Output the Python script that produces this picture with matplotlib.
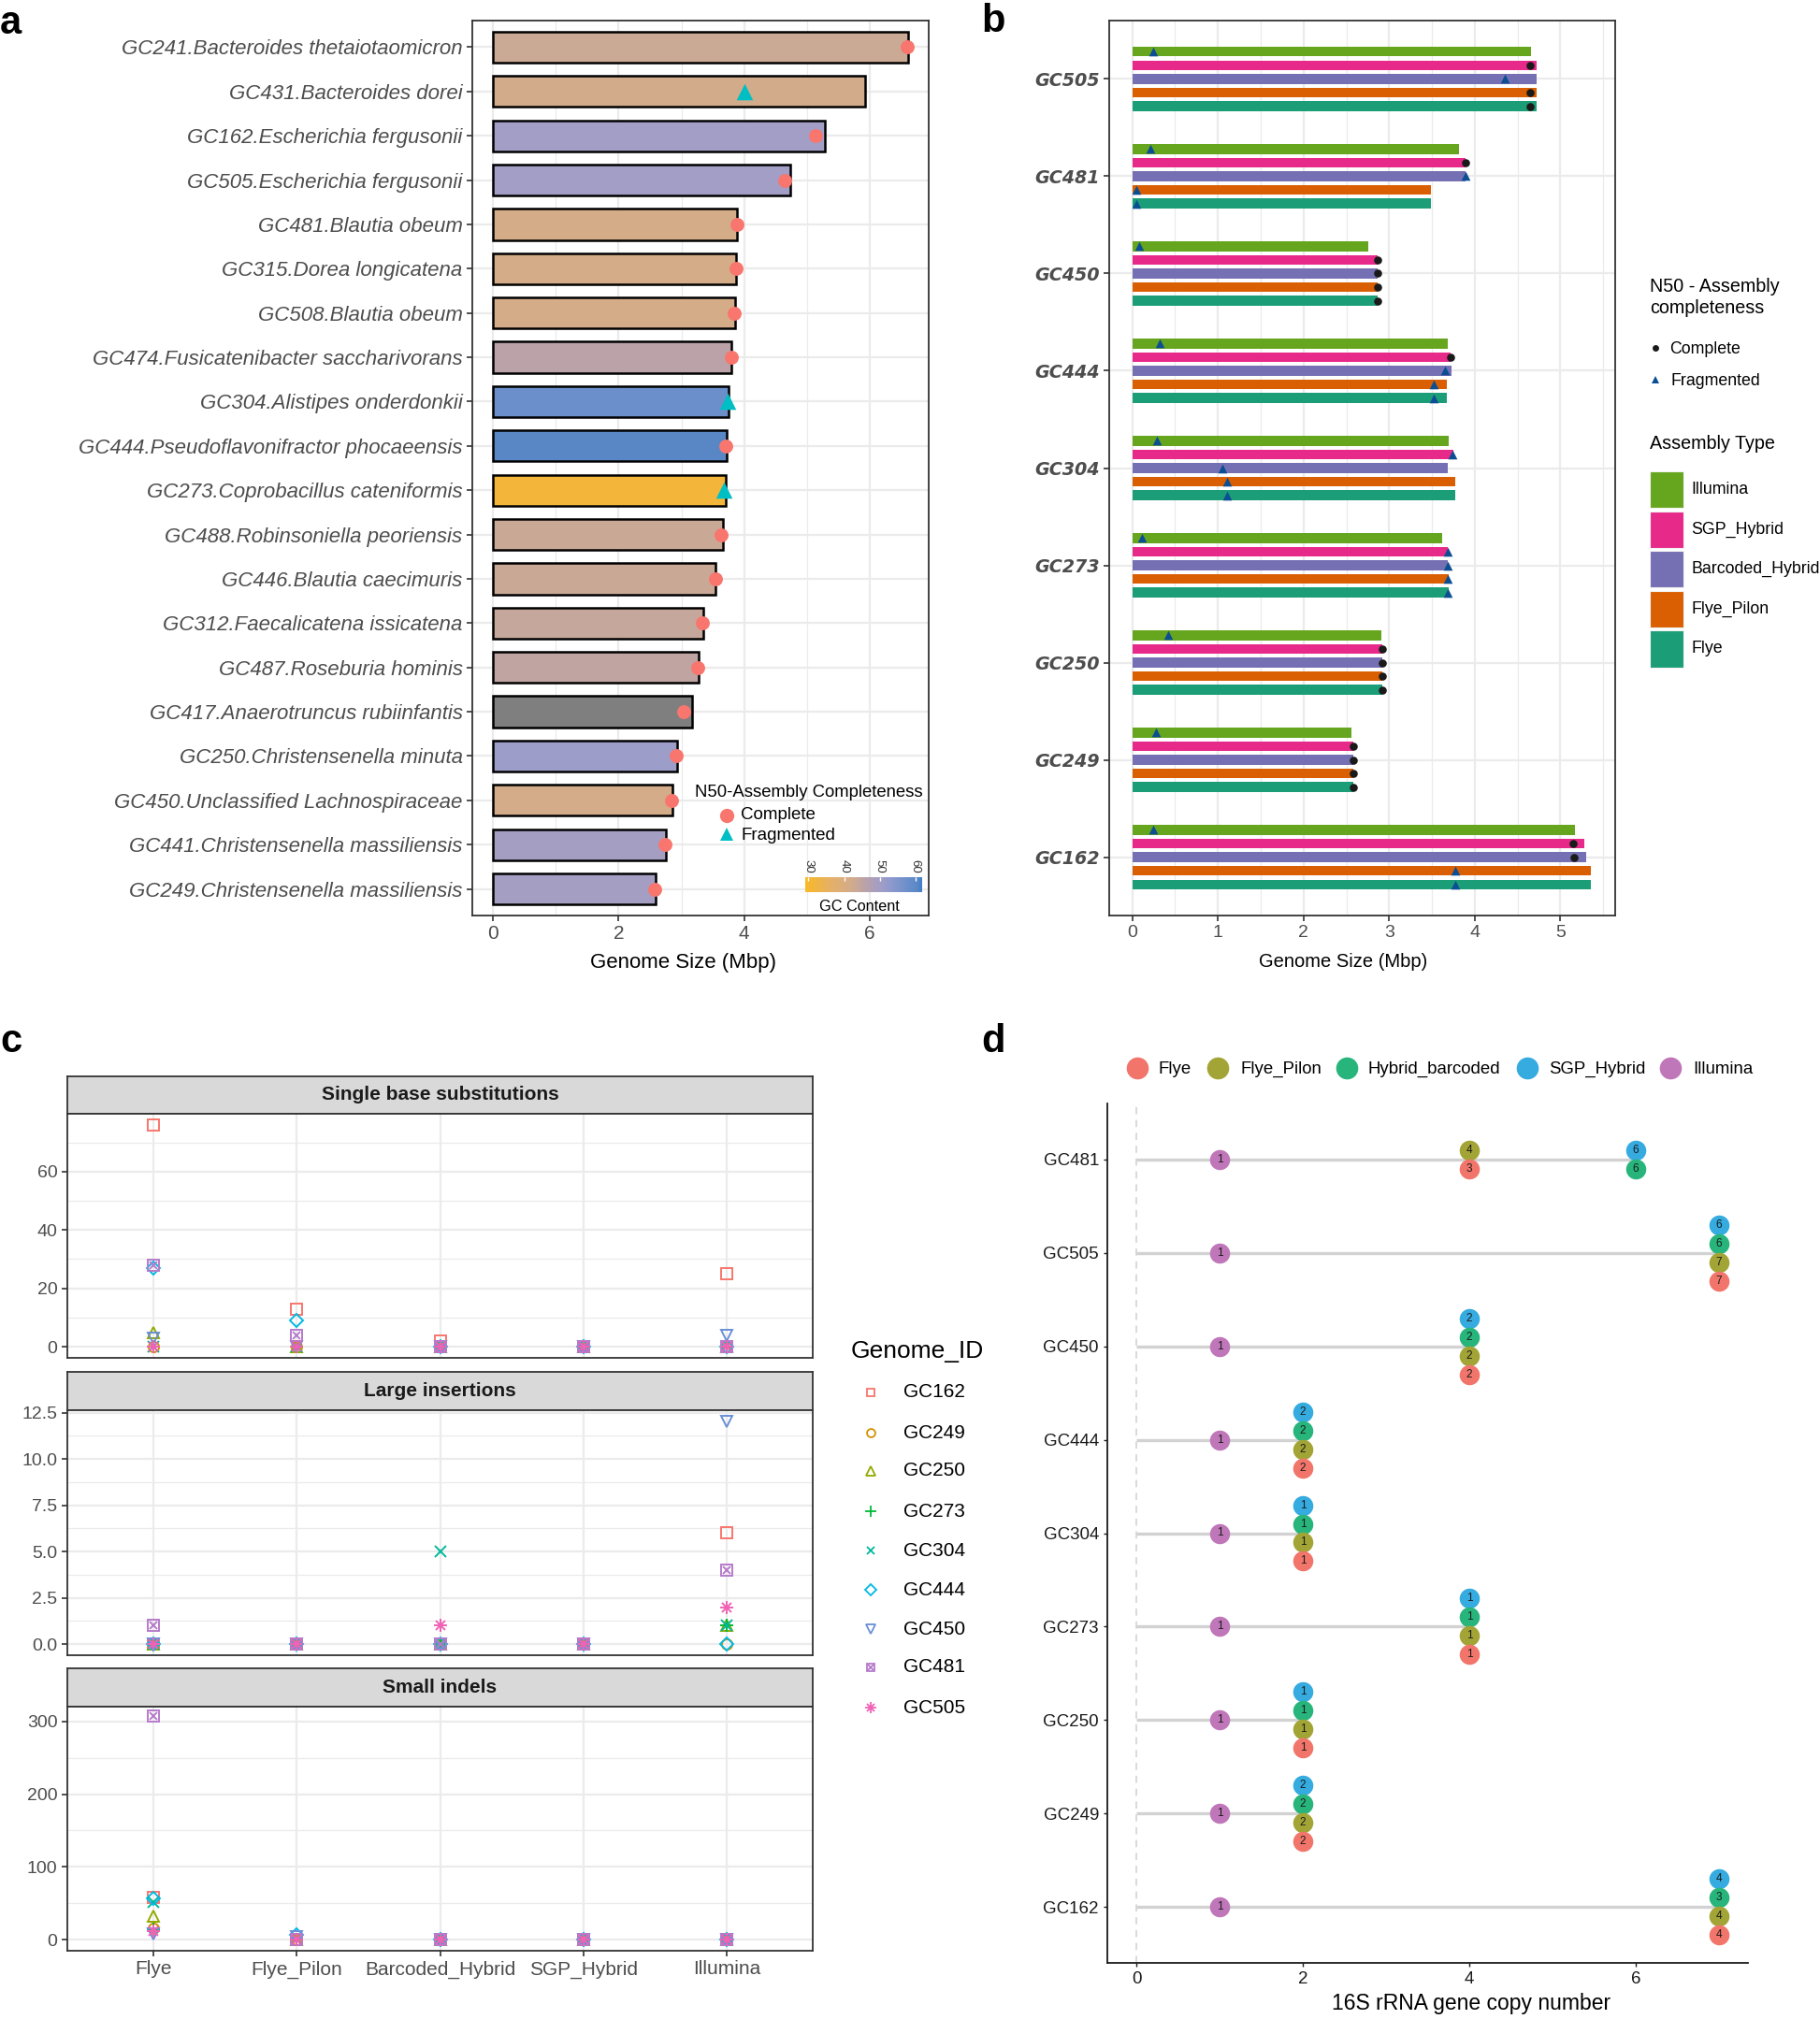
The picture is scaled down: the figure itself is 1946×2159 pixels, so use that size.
import numpy as np
import matplotlib
matplotlib.use("Agg")
import matplotlib.pyplot as plt
from matplotlib.colors import LinearSegmentedColormap, Normalize
from matplotlib.cm import ScalarMappable
from matplotlib.patches import Rectangle
from matplotlib.ticker import FixedLocator

plt.rcParams['font.family'] = ['Liberation Sans', 'DejaVu Sans']

# ======================= DATA =======================
# ---- panel a
a_labels = ["GC241.Bacteroides thetaiotaomicron", "GC431.Bacteroides dorei",
            "GC162.Escherichia fergusonii", "GC505.Escherichia fergusonii",
            "GC481.Blautia obeum", "GC315.Dorea longicatena", "GC508.Blautia obeum",
            "GC474.Fusicatenibacter saccharivorans", "GC304.Alistipes onderdonkii",
            "GC444.Pseudoflavonifractor phocaeensis", "GC273.Coprobacillus cateniformis",
            "GC488.Robinsoniella peoriensis", "GC446.Blautia caecimuris",
            "GC312.Faecalicatena issicatena", "GC487.Roseburia hominis",
            "GC417.Anaerotruncus rubiinfantis", "GC250.Christensenella minuta",
            "GC450.Unclassified Lachnospiraceae", "GC441.Christensenella massiliensis",
            "GC249.Christensenella massiliensis"]
a_size = [6.61, 5.93, 5.28, 4.73, 3.89, 3.87, 3.85, 3.80, 3.75, 3.72,
          3.70, 3.66, 3.55, 3.35, 3.27, 3.17, 2.93, 2.86, 2.75, 2.59]
a_n50 = [6.60, 4.00, 5.14, 4.65, 3.89, 3.87, 3.84, 3.80, 3.73, 3.71,
         3.68, 3.64, 3.55, 3.34, 3.26, 3.04, 2.92, 2.85, 2.74, 2.58]
a_status = ["Complete", "Fragmented", "Complete", "Complete", "Complete", "Complete",
            "Complete", "Complete", "Fragmented", "Complete", "Fragmented", "Complete",
            "Complete", "Complete", "Complete", "Complete", "Complete", "Complete",
            "Complete", "Complete"]
a_gc = [43.3, 41.8, 50.0, 50.0, 41.5, 41.5, 41.5, 45.8, 58.0, 60.5,
        31.5, 43.5, 43.5, 44.2, 45.0, np.nan, 51.0, 41.6, 49.5, 49.5]
gc_ticks = [30, 40, 50, 60]

# ---- panel b
b_genomes = ["GC505", "GC481", "GC450", "GC444", "GC304", "GC273", "GC250", "GC249", "GC162"]
b_types = ["Illumina", "SGP_Hybrid", "Barcoded_Hybrid", "Flye_Pilon", "Flye"]
b_size = {
    "Illumina":        [4.66, 3.82, 2.76, 3.69, 3.70, 3.62, 2.91, 2.56, 5.17],
    "SGP_Hybrid":      [4.72, 3.89, 2.86, 3.72, 3.75, 3.69, 2.92, 2.58, 5.28],
    "Barcoded_Hybrid": [4.72, 3.89, 2.86, 3.73, 3.68, 3.69, 2.92, 2.58, 5.30],
    "Flye_Pilon":      [4.72, 3.49, 2.86, 3.67, 3.77, 3.70, 2.92, 2.58, 5.36],
    "Flye":            [4.72, 3.49, 2.86, 3.67, 3.77, 3.70, 2.92, 2.58, 5.36],
}
b_n50 = {
    "Illumina":        [0.24, 0.21, 0.08, 0.32, 0.29, 0.11, 0.42, 0.28, 0.24],
    "SGP_Hybrid":      [4.65, 3.89, 2.86, 3.72, 3.74, 3.68, 2.92, 2.58, 5.15],
    "Barcoded_Hybrid": [4.35, 3.89, 2.86, 3.65, 1.05, 3.68, 2.92, 2.58, 5.16],
    "Flye_Pilon":      [4.65, 0.05, 2.86, 3.52, 1.11, 3.69, 2.92, 2.58, 3.77],
    "Flye":            [4.65, 0.05, 2.86, 3.52, 1.11, 3.69, 2.92, 2.58, 3.77],
}
b_status = {
    "Illumina":        ["F", "F", "F", "F", "F", "F", "F", "F", "F"],
    "SGP_Hybrid":      ["C", "C", "C", "C", "F", "F", "C", "C", "C"],
    "Barcoded_Hybrid": ["F", "F", "C", "F", "F", "F", "C", "C", "C"],
    "Flye_Pilon":      ["C", "F", "C", "F", "F", "F", "C", "C", "F"],
    "Flye":            ["C", "F", "C", "F", "F", "F", "C", "C", "F"],
}

# ---- panel c
c_types = ["Flye", "Flye_Pilon", "Barcoded_Hybrid", "SGP_Hybrid", "Illumina"]
c_ids = ["GC162", "GC249", "GC250", "GC273", "GC304", "GC444", "GC450", "GC481", "GC505"]
c_facets = ["Single base substitutions", "Large insertions", "Small indels"]
c_sbs = {"GC162": [76, 13, 2, 0, 25], "GC249": [0, 0, 0, 0, 0], "GC250": [5, 0, 0, 0, 0],
         "GC273": [0, 0, 0, 0, 0], "GC304": [0, 0, 0, 0, 0], "GC444": [27, 9, 0, 0, 0],
         "GC450": [3, 0, 0, 0, 4], "GC481": [28, 4, 0, 0, 0], "GC505": [0, 0, 0, 0, 0]}
c_ins = {"GC162": [0, 0, 0, 0, 6], "GC249": [0, 0, 0, 0, 0], "GC250": [0, 0, 0, 0, 1],
         "GC273": [0, 0, 0, 0, 1], "GC304": [0, 0, 5, 0, 1], "GC444": [0, 0, 0, 0, 0],
         "GC450": [0, 0, 0, 0, 12], "GC481": [1, 0, 0, 0, 4], "GC505": [0, 0, 1, 0, 2]}
c_indel = {"GC162": [58, 0, 0, 0, 0], "GC249": [15, 0, 0, 0, 0], "GC250": [32, 0, 0, 0, 0],
           "GC273": [14, 0, 0, 0, 0], "GC304": [52, 0, 0, 0, 0], "GC444": [57, 7, 0, 0, 0],
           "GC450": [8, 4, 0, 0, 0], "GC481": [307, 0, 0, 0, 0], "GC505": [12, 0, 0, 0, 0]}
c_yticks = [[0, 20, 40, 60], [0.0, 2.5, 5.0, 7.5, 10.0, 12.5], [0, 100, 200, 300]]
c_ytick_labels = [["0", "20", "40", "60"], ["0.0", "2.5", "5.0", "7.5", "10.0", "12.5"],
                  ["0", "100", "200", "300"]]

# ---- panel d
d_genomes = ["GC481", "GC505", "GC450", "GC444", "GC304", "GC273", "GC250", "GC249", "GC162"]
d_types = ["Flye", "Flye_Pilon", "Hybrid_barcoded", "SGP_Hybrid", "Illumina"]
d_pos = {
    "Flye":            [4, 7, 4, 2, 2, 4, 2, 2, 7],
    "Flye_Pilon":      [4, 7, 4, 2, 2, 4, 2, 2, 7],
    "Hybrid_barcoded": [6, 7, 4, 2, 2, 4, 2, 2, 7],
    "SGP_Hybrid":      [6, 7, 4, 2, 2, 4, 2, 2, 7],
    "Illumina":        [1, 1, 1, 1, 1, 1, 1, 1, 1],
}
d_copies = {
    "Flye":            [3, 7, 2, 2, 1, 1, 1, 2, 4],
    "Flye_Pilon":      [4, 7, 2, 2, 1, 1, 1, 2, 4],
    "Hybrid_barcoded": [6, 6, 2, 2, 1, 1, 1, 2, 3],
    "SGP_Hybrid":      [6, 6, 2, 2, 1, 1, 1, 2, 4],
    "Illumina":        [1, 1, 1, 1, 1, 1, 1, 1, 1],
}

# ======================= STYLE =======================
W, H = 1946, 2159
DPI = 100
fig = plt.figure(figsize=(W / DPI, H / DPI), dpi=DPI)


def rect(x0, y0, x1, y1):
    return [x0 / W, 1 - y1 / H, (x1 - x0) / W, (y1 - y0) / H]


GRID = '#EBEBEB'
TXT = '#4D4D4D'
SPINE = '#333333'


def style_bw(ax):
    for s in ax.spines.values():
        s.set_color(SPINE)
        s.set_linewidth(1.3)
    ax.tick_params(which='major', colors=SPINE, labelcolor=TXT, length=4, width=1.2)
    ax.tick_params(which='minor', length=0)
    ax.set_axisbelow(True)


# GC colour scale
gc_lo, gc_hi = 29.1, 61.9
anchors = [(29.1, '#F9B926'), (36.0, '#E6B066'), (41.5, '#D4AC88'), (44.0, '#C6A79A'),
           (46.0, '#B9A1A9'), (50.0, '#A29EC6'), (52.0, '#969BCC'), (58.0, '#6A8FCA'),
           (60.5, '#5B88C6'), (61.9, '#3F7EC8')]
gc_cmap = LinearSegmentedColormap.from_list(
    'gc', [((v - gc_lo) / (gc_hi - gc_lo), c) for v, c in anchors])
gc_norm = Normalize(gc_lo, gc_hi)

# ======================= PANEL A =======================
axa = fig.add_axes(rect(505, 22, 993, 979))
style_bw(axa)
ya = np.arange(len(a_labels))
a_cols = ['#7F7F7F' if np.isnan(g) else gc_cmap(gc_norm(g)) for g in a_gc]
axa.barh(ya, a_size, height=0.7, color=a_cols, edgecolor='black', linewidth=1.8, zorder=2)
st = np.array(a_status)
n50 = np.array(a_n50)
axa.scatter(n50[st == "Complete"], ya[st == "Complete"], marker='o', s=115,
            color='#F8766D', linewidths=0, zorder=3)
axa.scatter(n50[st == "Fragmented"], ya[st == "Fragmented"], marker='^', s=160,
            color='#00BFC4', linewidths=0, zorder=3)
axa.set_xlim(-0.33, 6.94)
axa.set_ylim(len(a_labels) - 1 + 0.6, -0.6)
axa.set_xticks([0, 2, 4, 6])
axa.xaxis.set_minor_locator(FixedLocator([1, 3, 5]))
axa.set_yticks(ya)
axa.set_yticklabels(a_labels, fontstyle='italic', fontsize=16)
axa.tick_params(axis='x', labelsize=15)
axa.grid(which='major', color=GRID, linewidth=1.6)
axa.grid(which='minor', axis='x', color=GRID, linewidth=0.9)
axa.set_xlabel('Genome Size (Mbp)', fontsize=16)
axa.xaxis.set_label_coords(0.463, -0.042)

# colour bar legend
cax = fig.add_axes(rect(861, 938, 986, 954))
cb = fig.colorbar(ScalarMappable(norm=gc_norm, cmap=gc_cmap), cax=cax, orientation='horizontal')
cb.outline.set_visible(False)
cax.xaxis.set_ticks_position('top')
cb.set_ticks(gc_ticks)
cax.tick_params(axis='x', colors='white', labelcolor='#333333', length=3, width=1,
                direction='in', labelsize=9.5, labelrotation=-90, pad=3)

# ======================= PANEL B =======================
b_cols = {"Illumina": '#66A61E', "SGP_Hybrid": '#E7298A', "Barcoded_Hybrid": '#7570B3',
          "Flye_Pilon": '#D95F02', "Flye": '#1B9E77'}
axb = fig.add_axes(rect(1186, 22, 1727, 979))
style_bw(axb)
yb = np.arange(len(b_genomes))
offs = [-0.28, -0.14, 0.0, 0.14, 0.28]
for t, off in zip(b_types, offs):
    axb.barh(yb + off, b_size[t], height=0.1, color=b_cols[t], linewidth=0, zorder=2)
    s_ = np.array(b_status[t])
    v_ = np.array(b_n50[t])
    yy = yb + off
    axb.scatter(v_[s_ == "C"], yy[s_ == "C"], marker='o', s=38, color='#1A1A1A',
                linewidths=0, zorder=3)
    axb.scatter(v_[s_ == "F"], yy[s_ == "F"], marker='^', s=48, color='#0B4E93',
                linewidths=0, zorder=3)
axb.set_xlim(-0.27, 5.64)
axb.set_ylim(len(b_genomes) - 1 + 0.6, -0.6)
axb.set_xticks([0, 1, 2, 3, 4, 5])
axb.xaxis.set_minor_locator(FixedLocator(np.arange(0.5, 5.6, 1.0)))
axb.set_yticks(yb)
axb.set_yticklabels(b_genomes, fontfamily='DejaVu Sans', fontweight='bold',
                    fontstyle='italic', fontsize=13.8)
axb.tick_params(axis='x', labelsize=14)
axb.grid(which='major', color=GRID, linewidth=1.6)
axb.grid(which='minor', axis='x', color=GRID, linewidth=0.9)
axb.set_xlabel('Genome Size (Mbp)', fontsize=14.5)
axb.xaxis.set_label_coords(0.463, -0.042)

# ======================= PANEL C =======================
c_cols = {"GC162": '#F8766D', "GC249": '#D39200', "GC250": '#93AA00', "GC273": '#00BA38',
          "GC304": '#00B89A', "GC444": '#00B9E3', "GC450": '#6A8FD8', "GC481": '#B57BCB',
          "GC505": '#F062B5'}
c_mark = {"GC162": ['s'], "GC249": ['o'], "GC250": ['^'], "GC273": ['+'], "GC304": ['x'],
          "GC444": ['D'], "GC450": ['v'], "GC481": ['s', 'x'], "GC505": ['+', 'x']}
c_msize = {'s': 8, 'o': 8, '^': 9, '+': 10, 'x': 8, 'D': 7.5, 'v': 9}


def draw_c(ax, x, y, gid, scale=1.0, lw=1.4):
    for m in c_mark[gid]:
        ms = c_msize[m] * scale
        if gid == "GC481" and m == 'x':
            ms = 6 * scale
        if gid == "GC505" and m == 'x':
            ms = 7.5 * scale
        if m in ('+', 'x'):
            ax.plot(x, y, linestyle='none', marker=m, markersize=ms,
                    color=c_cols[gid], markeredgewidth=lw, zorder=3)
        else:
            ax.plot(x, y, linestyle='none', marker=m, markersize=ms,
                    markerfacecolor='none', markeredgecolor=c_cols[gid],
                    markeredgewidth=lw, zorder=3)


c_data = [c_sbs, c_ins, c_indel]
c_ylims = [(-3.8, 79.8), (-0.6, 12.63), (-15.35, 320.35)]
strip_px = [(1151, 1191), (1467, 1508), (1784, 1825)]
panel_px = [(1191, 1452), (1508, 1770), (1825, 2086)]
xc = np.arange(len(c_types))
for k in range(3):
    sx = fig.add_axes(rect(72, strip_px[k][0], 869, strip_px[k][1]))
    sx.set_facecolor('#D9D9D9')
    sx.set_xticks([])
    sx.set_yticks([])
    for s in sx.spines.values():
        s.set_color(SPINE)
        s.set_linewidth(1.3)
    sx.text(0.5, 0.5, c_facets[k], transform=sx.transAxes, ha='center', va='center',
            fontsize=15, fontweight='bold', color='#1A1A1A')
    ax = fig.add_axes(rect(72, panel_px[k][0], 869, panel_px[k][1]))
    style_bw(ax)
    for gid in c_ids:
        draw_c(ax, xc, c_data[k][gid], gid)
    ax.set_xlim(-0.6, len(c_types) - 1 + 0.6)
    ax.set_ylim(*c_ylims[k])
    ax.set_yticks(c_yticks[k])
    ax.set_yticklabels(c_ytick_labels[k], fontsize=14)
    yt = c_yticks[k]
    step = yt[1] - yt[0]
    ax.yaxis.set_minor_locator(FixedLocator(np.arange(yt[0] + step / 2, c_ylims[k][1], step)))
    ax.set_xticks(xc)
    ax.grid(which='major', color=GRID, linewidth=1.6)
    ax.grid(which='minor', axis='y', color=GRID, linewidth=0.9)
    if k < 2:
        ax.tick_params(axis='x', length=0, labelbottom=False)
    else:
        ax.set_xticklabels(c_types, fontsize=15)

# ======================= PANEL D =======================
d_cols = {"Flye": '#F1756A', "Flye_Pilon": '#A3A436', "Hybrid_barcoded": '#27B57C',
          "SGP_Hybrid": '#35ABE0', "Illumina": '#BF77B9'}
axd = fig.add_axes(rect(1184, 1180, 1869, 2099))
for s in ['top', 'right']:
    axd.spines[s].set_visible(False)
for s in ['left', 'bottom']:
    axd.spines[s].set_color('#1A1A1A')
    axd.spines[s].set_linewidth(1.3)
axd.tick_params(colors='#1A1A1A', labelcolor='#1A1A1A', length=3, width=1)
nd = len(d_genomes)
yd = nd - 1 - np.arange(nd)
axd.axvline(0, color='#CFCFCF', linestyle=(0, (5, 4)), linewidth=1.1, zorder=0)
maxpos = [max(d_pos[t][i] for t in d_types) for i in range(nd)]
axd.hlines(yd, 0, maxpos, color='#D2D2D2', linewidth=2.4, zorder=1)
stack_order = ["SGP_Hybrid", "Hybrid_barcoded", "Flye_Pilon", "Flye"]
for i in range(nd):
    groups = {}
    for t in stack_order:
        groups.setdefault(d_pos[t][i], []).append(t)
    groups.setdefault(d_pos["Illumina"][i], []).append("Illumina")
    for xv, members in groups.items():
        n = len(members)
        for j, t in enumerate(members):
            yy = yd[i] + ((n - 1) / 2 - j) * 0.2
            axd.plot(xv, yy, 'o', markersize=15.5, color=d_cols[t], markeredgewidth=0, zorder=3)
            axd.text(xv, yy, str(d_copies[t][i]), ha='center', va='center', fontsize=8.5,
                     color='#1A1A1A', zorder=4)
axd.set_xlim(-0.35, 7.35)
axd.set_ylim(-0.6, nd - 1 + 0.6)
axd.set_yticks(yd)
axd.set_yticklabels(d_genomes, fontsize=13.5)
axd.set_xticks([0, 2, 4, 6])
axd.tick_params(axis='x', labelsize=13.5)
axd.set_xlabel('16S rRNA gene copy number', fontsize=16.5)
axd.xaxis.set_label_coords(0.568, -0.035)

# ======================= OVERLAY (legends, letters) =======================
ov = fig.add_axes([0, 0, 1, 1], facecolor='none')
ov.set_xlim(0, W)
ov.set_ylim(H, 0)
ov.axis('off')

for letter, (x, y) in zip("abcd", [(0, 36), (1049, 34), (0, 1125), (1049, 1125)]):
    ov.text(x, y, letter, fontsize=30, fontweight='bold', ha='left', va='baseline')

# panel a legend
ov.text(743, 847, "N50-Assembly Completeness", fontsize=13.3, ha='left', va='center')
ov.plot(777, 872, 'o', markersize=11, color='#F8766D', markeredgewidth=0)
ov.text(792, 872, "Complete", fontsize=13.5, ha='left', va='center')
ov.plot(777, 892, '^', markersize=10, color='#00BFC4', markeredgewidth=0)
ov.text(792, 893, "Fragmented", fontsize=13.5, ha='left', va='center')
ov.text(919, 969, "GC Content", fontsize=11.7, ha='center', va='center')

# panel b legend
ov.text(1764, 318, "N50 - Assembly\ncompleteness", fontsize=14.2, ha='left', va='center',
        linespacing=1.3)
ov.plot(1770, 372, 'o', markersize=5, color='#1A1A1A', markeredgewidth=0)
ov.text(1785, 373, "Complete", fontsize=12.8, ha='left', va='center')
ov.plot(1770, 406, '^', markersize=6, color='#0B4E93', markeredgewidth=0)
ov.text(1787, 407, "Fragmented", fontsize=12.8, ha='left', va='center')
ov.text(1764, 475, "Assembly Type", fontsize=14.2, ha='left', va='center')
box_y = [(504, 543), (547, 586), (589, 628), (632, 671), (674, 714)]
for t, (y0, y1) in zip(b_types, box_y):
    ov.add_patch(Rectangle((1764, y0), 36, y1 - y0, facecolor=b_cols[t],
                           edgecolor='#F2F2F2', linewidth=0.8))
    ov.text(1808, (y0 + y1) / 2, t, fontsize=12.8, ha='left', va='center')

# panel c legend
ov.text(910, 1445, "Genome_ID", fontsize=19, ha='left', va='center')
leg_y = [1489, 1532, 1573, 1616, 1658, 1700, 1742, 1783, 1826]
for gid, yy in zip(c_ids, leg_y):
    draw_c(ov, 931, yy, gid, scale=0.8, lw=1.3)
    ov.text(966, yy, gid, fontsize=15, ha='left', va='center')

# panel d legend
leg_dx = [(1216, 1239), (1302, 1326), (1440, 1463), (1633, 1656), (1786, 1810)]
for t, (cx, tx) in zip(d_types, leg_dx):
    ov.plot(cx, 1142, 'o', markersize=17, color=d_cols[t], markeredgewidth=0)
    ov.text(tx, 1143, t, fontsize=13.4, ha='left', va='center')

fig.savefig('out.png', dpi=DPI)
